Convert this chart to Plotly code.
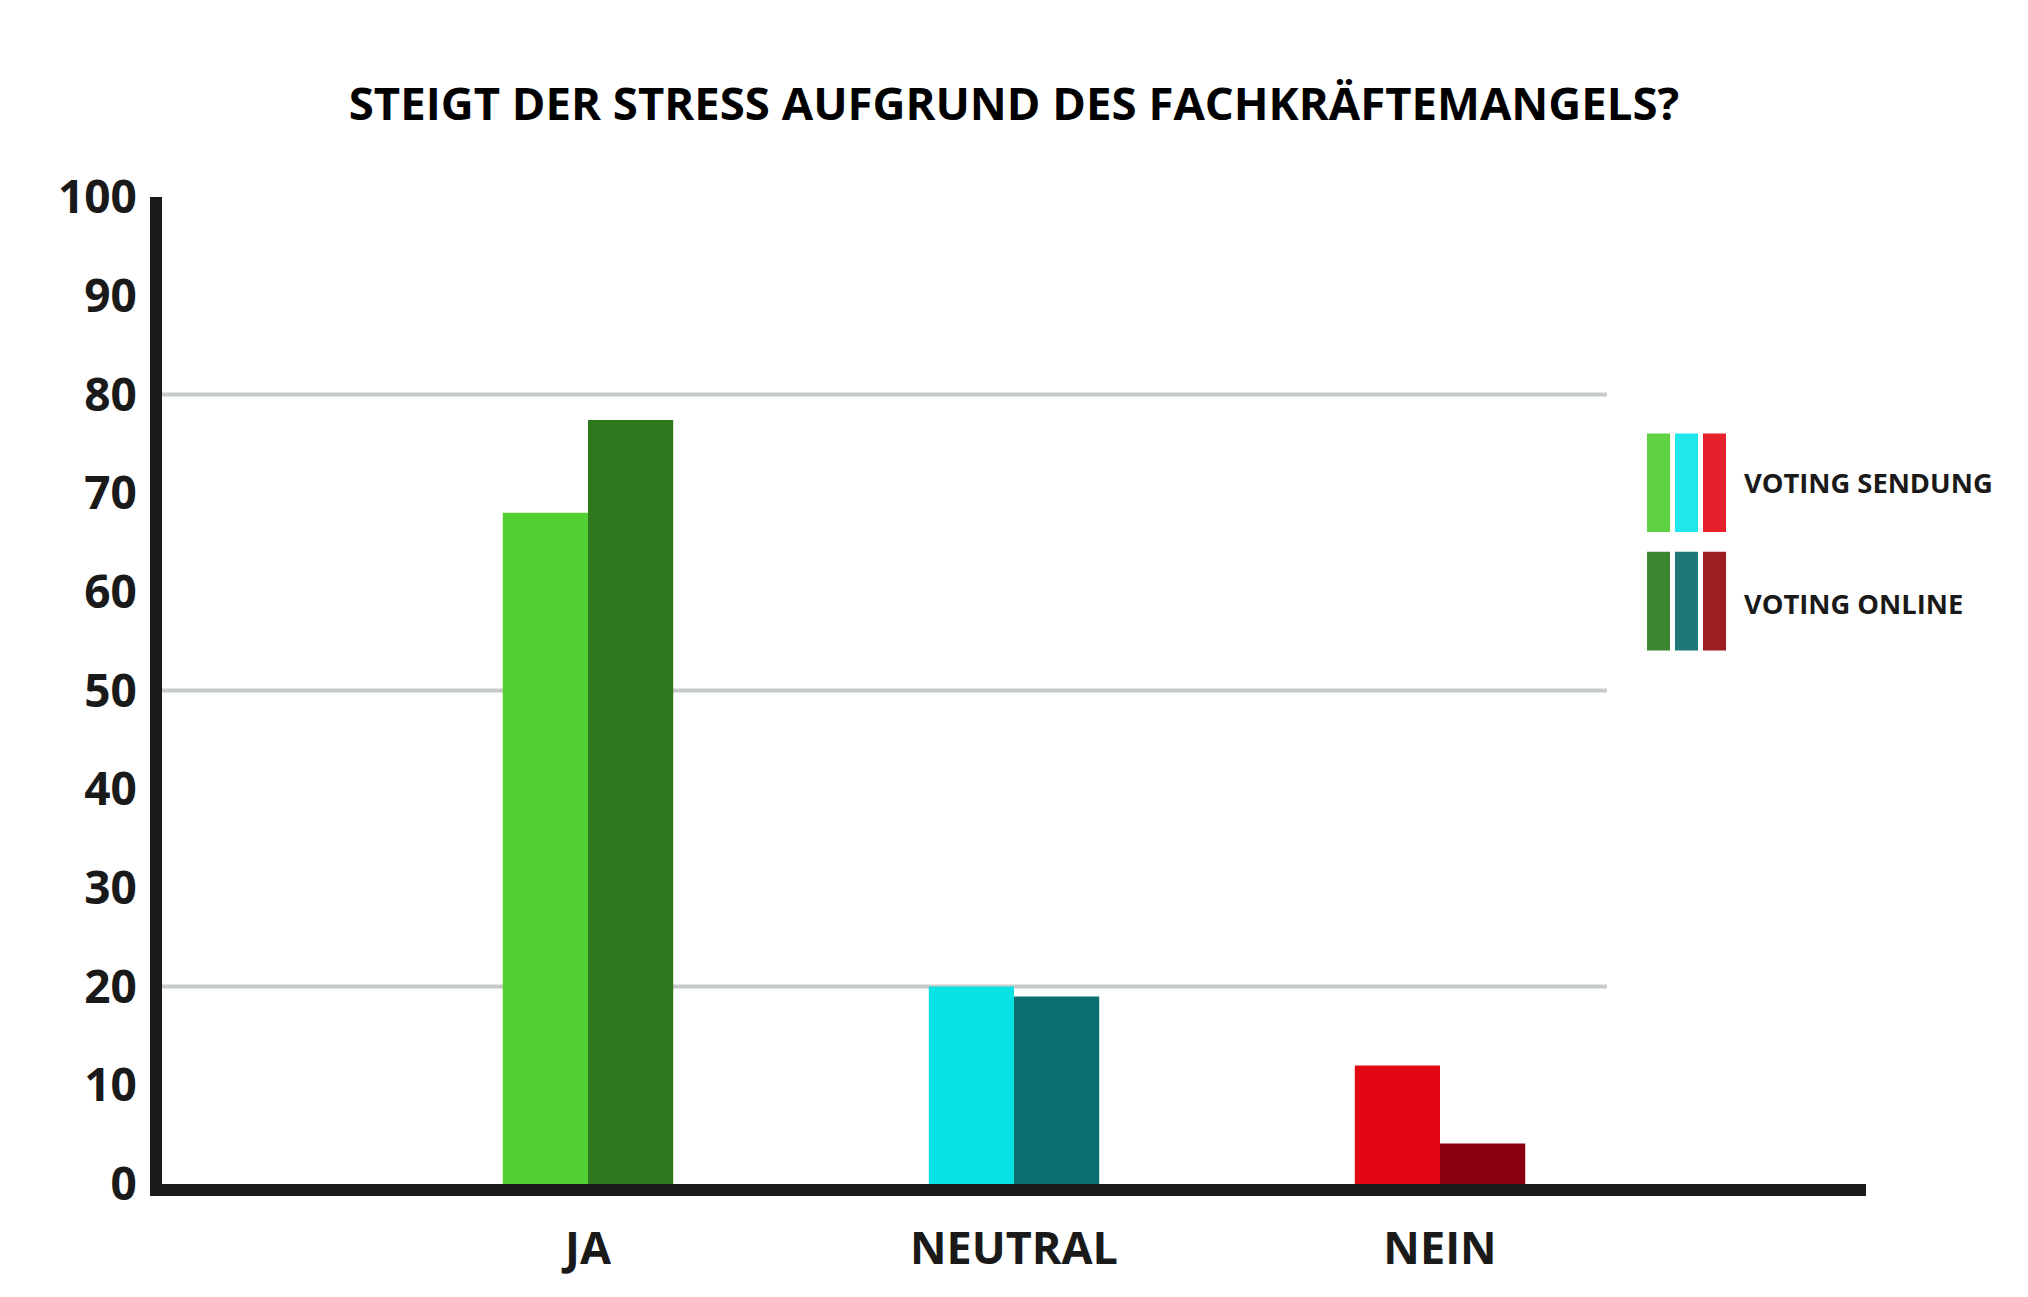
import plotly.graph_objects as go

categories = ["JA", "NEUTRAL", "NEIN"]
sendung_values = [68, 20, 12]
online_values = [77.4, 19, 4.1]
sendung_colors = ["#53d031", "#08e2e5", "#e30613"]
online_colors = ["#2f781e", "#0b6f70", "#8a0010"]
legend_sendung_colors = ["#5fd243", "#1ee8ec", "#e5202a"]
legend_online_colors = ["#3d8530", "#1f7878", "#9a1e22"]
legend_labels = ["VOTING SENDUNG", "VOTING ONLINE"]
y_ticks = list(range(0, 101, 10))
grid_values = [20, 50, 80]
title_text = "STEIGT DER STRESS AUFGRUND DES FACHKRÄFTEMANGELS?"

# page body has an 8px margin; figure sized so the page is exactly the window
OFF = 8
W, H = 2028 - 2 * OFF, 1297 - 2 * OFF
# plot area in reference-pixel coordinates
PL, PR, PT, PB = 162, 1866, 196.5, 1196.5
L, R, T, B = PL - OFF, W - (PR - OFF), PT - OFF, H - (PB - OFF)
PW = PR - PL
PH = PB - PT

def px(x):
    return (x - PL) / PW

def py(y):
    return (PB - y) / PH

FONT = "Open Sans"
INK = "#1a1a1a"

fig = go.Figure()
fig.add_trace(go.Bar(x=[0, 1, 2], y=sendung_values, marker=dict(color=sendung_colors, line=dict(width=0)),
                     name=legend_labels[0], showlegend=False))
fig.add_trace(go.Bar(x=[0, 1, 2], y=online_values, marker=dict(color=online_colors, line=dict(width=0)),
                     name=legend_labels[1], showlegend=False))

shapes = []
for g in grid_values:
    shapes.append(dict(type="line", xref="paper", yref="y", x0=0, x1=px(1607), y0=g, y1=g,
                       line=dict(color="#c5cbc9", width=4), layer="below"))

# legend swatches
sw_x = [1647, 1675, 1703]
sw_w = 23
rows = [(436, 536, legend_sendung_colors), (556, 656, legend_online_colors)]
for (y0, y1, cols) in rows:
    for xx, c in zip(sw_x, cols):
        shapes.append(dict(type="rect", xref="paper", yref="paper", x0=px(xx), x1=px(xx + sw_w),
                           y0=py(y1), y1=py(y0), fillcolor=c, line=dict(width=0)))

annotations = [
    dict(text=legend_labels[0], xref="paper", yref="paper", x=px(1742), y=py(486), xanchor="left",
         yanchor="middle", showarrow=False, font=dict(family=FONT, size=27.3, color=INK, weight="bold")),
    dict(text=legend_labels[1], xref="paper", yref="paper", x=px(1742), y=py(608), xanchor="left",
         yanchor="middle", showarrow=False, font=dict(family=FONT, size=27.3, color=INK, weight="bold")),
]

fig.update_layout(
    width=W, height=H,
    margin=dict(l=L, r=R, t=T, b=B, pad=0),
    paper_bgcolor="white", plot_bgcolor="white",
    barmode="group", bargap=0.6, bargroupgap=0,
    title=dict(text=title_text, x=(1014 - OFF) / W, xanchor="center", y=1 - (105 - OFF - 1) / H,
               yanchor="middle",
               font=dict(family=FONT, size=45.5, color="#000000", weight="bold")),
    xaxis=dict(range=[-1, 3], tickmode="array", tickvals=[0, 1, 2], ticktext=categories,
               showline=True, linewidth=12, linecolor=INK, showgrid=False, zeroline=False,
               ticks="", ticklabelstandoff=14,
               tickfont=dict(family=FONT, size=45, color=INK, weight="bold")),
    yaxis=dict(range=[0, 100], tickmode="array", tickvals=y_ticks,
               showline=True, linewidth=12, linecolor=INK, showgrid=False, zeroline=False,
               ticks="", ticklabelstandoff=4,
               tickfont=dict(family=FONT, size=46, color=INK, weight="bold")),
    shapes=shapes,
    annotations=annotations,
)

fig.write_html("out.html")
